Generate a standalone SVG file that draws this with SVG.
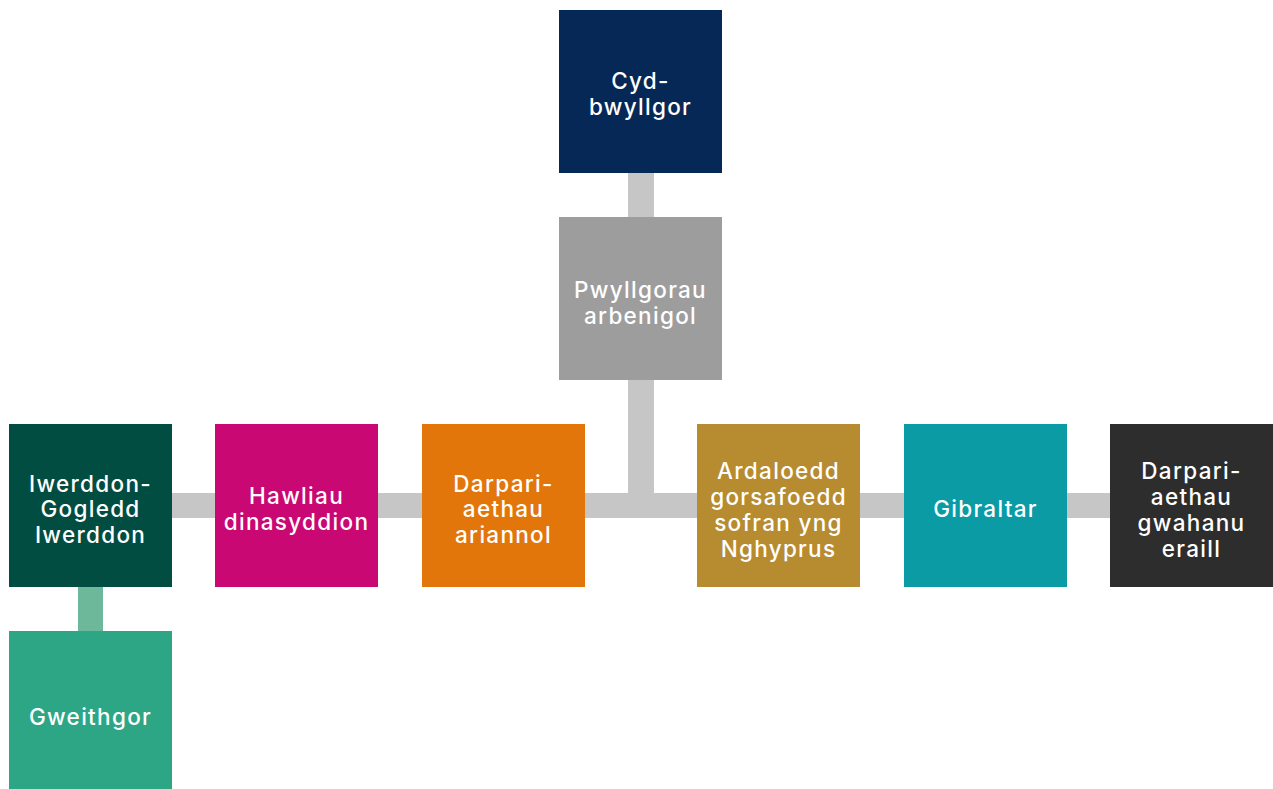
<svg xmlns="http://www.w3.org/2000/svg" width="1273" height="789" viewBox="0 0 1273 789">
<style>
.t{font-family:Inter,"Open Sans","Liberation Sans",sans-serif;font-size:22.5px;font-weight:500;letter-spacing:1.3px;fill:#ffffff;text-anchor:middle;dominant-baseline:central}
.c{fill:#c6c6c6}
</style>
<rect width="1273" height="789" fill="#ffffff"/>
<g id="connectors">
<rect class="c" x="628" y="173" width="26" height="44"/>
<rect class="c" x="628" y="380" width="26" height="126"/>
<rect class="c" x="172" y="493" width="938" height="25"/>
<rect x="78" y="587" width="25" height="44" fill="#6db89b"/>
</g>
<g id="n-cyd"><rect x="559" y="10" width="163" height="163" fill="#062856"/><text class="t" x="640.5" y="80">Cyd-</text><text class="t" x="640.5" y="106">bwyllgor</text></g>
<g id="n-pwyll"><rect x="559" y="217" width="163" height="163" fill="#9d9d9d"/><text class="t" x="640.5" y="289">Pwyllgorau</text><text class="t" x="640.5" y="315">arbenigol</text></g>
<g id="n-iwer"><rect x="9" y="424" width="163" height="163" fill="#024d41"/><text class="t" x="90.5" y="483">Iwerddon-</text><text class="t" x="90.5" y="508.5">Gogledd</text><text class="t" x="90.5" y="534">Iwerddon</text></g>
<g id="n-hawl"><rect x="215" y="424" width="163" height="163" fill="#c90873"/><text class="t" x="296.5" y="495">Hawliau</text><text class="t" x="296.5" y="521">dinasyddion</text></g>
<g id="n-darp1"><rect x="422" y="424" width="163" height="163" fill="#e3760a"/><text class="t" x="503.5" y="483">Darpari-</text><text class="t" x="503.5" y="508.5">aethau</text><text class="t" x="503.5" y="534">ariannol</text></g>
<g id="n-ardal"><rect x="697" y="424" width="163" height="163" fill="#b78b2f"/><text class="t" x="778.5" y="470">Ardaloedd</text><text class="t" x="778.5" y="496">gorsafoedd</text><text class="t" x="778.5" y="522">sofran yng</text><text class="t" x="778.5" y="548">Nghyprus</text></g>
<g id="n-gib"><rect x="904" y="424" width="163" height="163" fill="#0a9ba5"/><text class="t" x="985.5" y="508">Gibraltar</text></g>
<g id="n-darp2"><rect x="1110" y="424" width="163" height="163" fill="#2d2d2d"/><text class="t" x="1191.5" y="470">Darpari-</text><text class="t" x="1191.5" y="496">aethau</text><text class="t" x="1191.5" y="522">gwahanu</text><text class="t" x="1191.5" y="548">eraill</text></g>
<g id="n-gweith"><rect x="9" y="631" width="163" height="163" fill="#2da686"/><text class="t" x="90.5" y="716">Gweithgor</text></g>
</svg>
